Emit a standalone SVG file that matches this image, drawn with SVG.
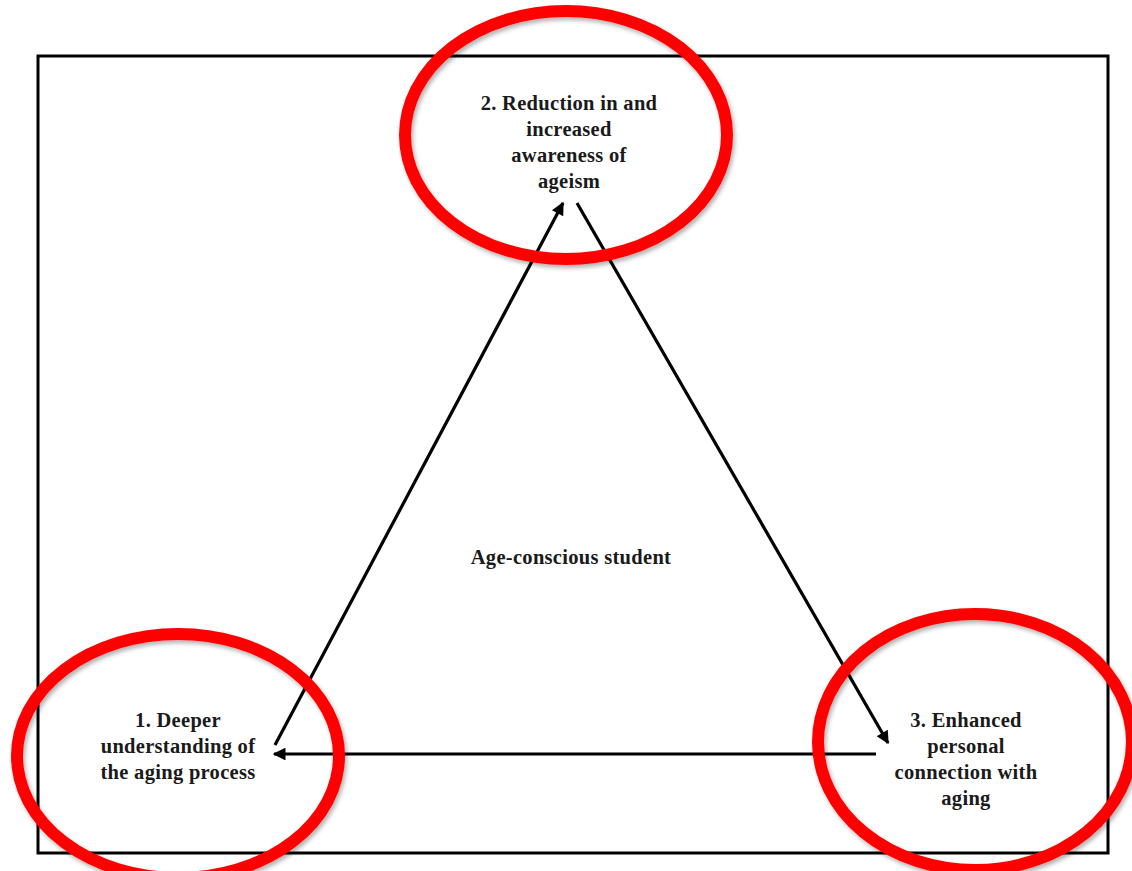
<svg xmlns="http://www.w3.org/2000/svg" width="1132" height="871" viewBox="0 0 1132 871">
<style>
.lbl{font-family:"Liberation Serif","Times New Roman",serif;font-weight:bold;font-size:20.5px;fill:#1a1a1a;text-anchor:middle;letter-spacing:0.3px}
.ring{fill:none;stroke:#ff0000;stroke-width:12}
.conn{stroke:#000;stroke-width:3.2;fill:none}
</style>
<defs>
<marker id="ah" viewBox="0 0 10 10" refX="9" refY="5" markerWidth="5" markerHeight="4" markerUnits="strokeWidth" orient="auto">
<path d="M0,0 L10,5 L0,10 z" fill="#000"/>
</marker>
<filter id="sh" x="-10%" y="-10%" width="120%" height="120%">
<feDropShadow dx="2" dy="3" stdDeviation="2" flood-color="#000" flood-opacity="0.3"/>
</filter>
</defs>
<rect width="1132" height="871" fill="#fff"/>
<rect id="frame" x="38" y="56" width="1070" height="797" fill="none" stroke="#000" stroke-width="3"/>
<g id="connectors">
<line class="conn" x1="275" y1="745" x2="563" y2="203" marker-end="url(#ah)"/>
<line class="conn" x1="577" y1="203" x2="888" y2="743" marker-end="url(#ah)"/>
<line class="conn" x1="876" y1="754" x2="274" y2="754" marker-end="url(#ah)"/>
</g>
<g id="node-center">
<text class="lbl" x="571" y="564">Age-conscious student</text>
</g>
<g id="node-2">
<ellipse class="ring" cx="566" cy="135" rx="161" ry="124" filter="url(#sh)"/>
<text class="lbl" x="569" y="110">2. Reduction in and</text>
<text class="lbl" x="569" y="136">increased</text>
<text class="lbl" x="569" y="162">awareness of</text>
<text class="lbl" x="569" y="188">ageism</text>
</g>
<g id="node-1">
<ellipse class="ring" cx="178" cy="756" rx="161" ry="122" filter="url(#sh)"/>
<text class="lbl" x="178" y="727">1. Deeper</text>
<text class="lbl" x="178" y="753">understanding of</text>
<text class="lbl" x="178" y="779">the aging process</text>
</g>
<g id="node-3">
<ellipse class="ring" cx="975" cy="742" rx="157" ry="128" filter="url(#sh)"/>
<text class="lbl" x="966" y="727">3. Enhanced</text>
<text class="lbl" x="966" y="753">personal</text>
<text class="lbl" x="966" y="779">connection with</text>
<text class="lbl" x="966" y="805">aging</text>
</g>
</svg>
